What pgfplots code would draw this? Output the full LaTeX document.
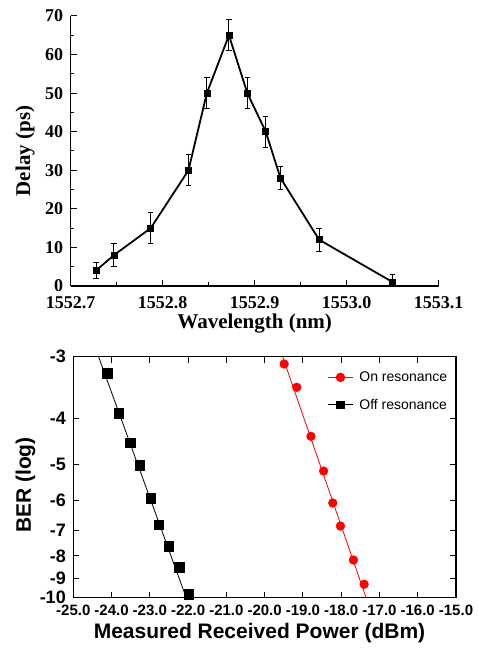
\documentclass[border=0pt]{standalone}
\usepackage{pgfplots}
\pgfplotsset{compat=1.18}
\usepackage{pgfplotstable}
\usepackage{fontspec}
\setmainfont{Liberation Serif}
\newfontfamily\arial{Liberation Sans}

% Wavelength given as offset from 1552 nm
\pgfplotstableread{
x      y   ep  em
0.7275 4   2   2
0.7470 8   3   3
0.7870 15  4   4
0.8280 30  4   4
0.8480 50  4   4
0.8720 65  4   4
0.8920 50  4   4
0.9120 40  4   4
0.9280 28  3   3
0.9700 12  3   3
1.0500 1   2   1
}\delaydata

% BER axis: y = -log10(Q) scale
\pgfplotstableread{
x       y
-24.11  -0.5116
-23.81  -0.5636
-23.52  -0.6019
-23.27  -0.6313
-22.98  -0.6742
-22.77  -0.7086
-22.51  -0.7363
-22.24  -0.7636
-21.98  -0.7987
}\offdata

\pgfplotstableread{
x       y
-19.49  -0.4995
-19.16  -0.5298
-18.79  -0.5936
-18.46  -0.6387
-18.22  -0.6803
-18.02  -0.7103
-17.68  -0.7545
-17.40  -0.7861
}\ondata

\begin{document}
\begin{tikzpicture}
\useasboundingbox (0,0) rectangle (478pt,652pt);

\begin{axis}[
  at={(70.7pt,366pt)}, anchor=south west,
  scale only axis, width=368pt, height=270pt,
  xmin=0.7, xmax=1.1, ymin=0, ymax=70,
  axis x line*=bottom, axis y line*=left,
  axis line style={line width=1.2pt,-},
  tick align=inside,
  xtick={0.7,0.8,0.9,1.0,1.1},
  xticklabels={1552.7,1552.8,1552.9,1553.0,1553.1},
  minor xtick={0.75,0.85,0.95,1.05},
  ytick={0,10,20,30,40,50,60,70},
  minor ytick={5,15,25,35,45,55,65},
  major tick length=6pt, minor tick length=3.5pt,
  every tick/.style={black, line width=1pt},
  tick label style={font=\bfseries\fontsize{18}{18}\selectfont},
  xticklabel style={yshift=-7.5pt},
  yticklabel style={xshift=-4pt},
  /pgf/number format/assume math mode=true,
  xlabel={Wavelength (nm)}, ylabel={Delay (ps)},
  label style={font=\bfseries\fontsize{21}{21}\selectfont},
  xlabel style={at={(axis description cs:0.5,-0.138)}, anchor=center},
  ylabel style={at={(axis description cs:-0.124,0.5)}, anchor=center},
  clip=false,
]
\addplot[black, line width=1.8pt, mark=square*, mark size=3pt,
  mark options={solid, line width=0.5pt},
  error bars/.cd, y dir=both, y explicit,
  error bar style={line width=0.9pt},
  error mark options={rotate=90, mark size=2.7pt, line width=0.9pt}]
  table[x=x, y=y, y error plus=ep, y error minus=em] {\delaydata};
\end{axis}

\begin{axis}[
  at={(73.3pt,54.3pt)}, anchor=south west,
  scale only axis, width=382.7pt, height=241pt,
  xmin=-25, xmax=-15, ymin=-0.80355, ymax=-0.48999,
  axis line style={line width=1.2pt},
  tick align=inside, major tick length=6pt,
  every tick/.style={black, line width=1pt},
  xtick={-25,-24,-23,-22,-21,-20,-19,-18,-17,-16,-15},
  xticklabels={-25.0,-24.0,-23.0,-22.0,-21.0,-20.0,-19.0,-18.0,-17.0,-16.0,-15.0},
  ytick={-0.48999,-0.57043,-0.62991,-0.67701,-0.71594,-0.74912,-0.77799,-0.80355},
  yticklabels={-3,-4,-5,-6,-7,-8,-9,-10},
  xticklabel style={font=\arial\bfseries\fontsize{15}{15}\selectfont, inner sep=2pt, yshift=-5.5pt},
  yticklabel style={font=\arial\bfseries\fontsize{18}{18}\selectfont, xshift=-4pt},
  xlabel={Measured Received Power (dBm)}, ylabel={BER (log)},
  label style={font=\arial\bfseries\fontsize{21}{21}\selectfont},
  xlabel style={at={(axis description cs:0.4866,-0.145)}, anchor=center},
  ylabel style={at={(axis description cs:-0.125,0.4676)}, anchor=center},
  clip=false,
  legend style={draw=none, fill=none, at={(axis description cs:0.656,0.955)}, anchor=north west,
    font=\arial\fontsize{14}{14}\selectfont, row sep=12pt, column sep=4pt},
  legend cell align=left,
  legend image code/.code={\draw[mark repeat=2, mark phase=2] plot coordinates {(0pt,0pt) (12.5pt,0pt) (25pt,0pt)};},
]
\addlegendimage{red, line width=0.8pt, mark=*, mark size=4.3pt, mark options={solid}}
\addlegendentry{On resonance}
\addlegendimage{black, line width=0.8pt, mark=square*, mark size=3.8pt, mark options={solid}}
\addlegendentry{Off resonance}
\addplot[red, line width=0.8pt, forget plot] coordinates {(-19.53,-0.48999) (-17.35,-0.80355)};
\addplot[black, line width=0.8pt, forget plot] coordinates {(-24.34,-0.48999) (-22.05,-0.80355)};
\addplot[only marks, red, mark=*, mark size=4.4pt, forget plot] table[x=x,y=y] {\ondata};
\addplot[only marks, black, mark=square*, mark size=4.8pt, forget plot] table[x=x,y=y] {\offdata};
\end{axis}
\end{tikzpicture}
\end{document}
